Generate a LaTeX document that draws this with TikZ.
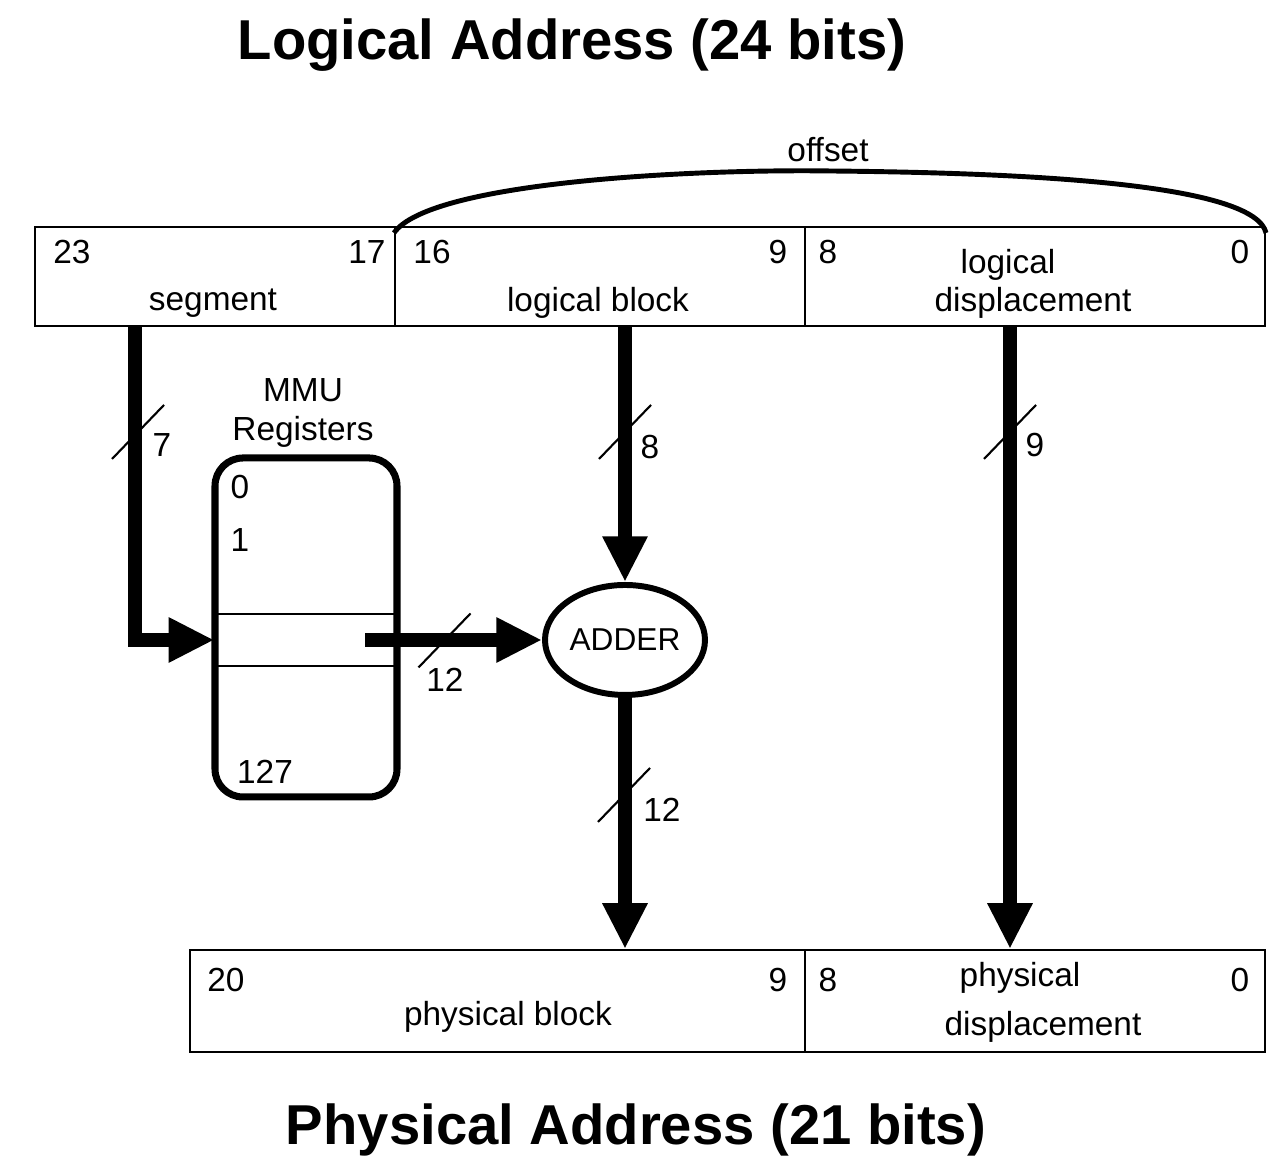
\documentclass[tikz,border=0pt]{standalone}
\usepackage{fontspec}
\setmainfont{Liberation Sans}
\usetikzlibrary{arrows.meta,shapes.geometric,positioning}

\begin{document}
\begin{tikzpicture}[>={Triangle[length=13pt,width=12pt]},
  field/.style={draw,semithick,inner sep=0pt},
  bus/.style={line width=4.2pt},
  slash/.style={semithick},
  lbl/.style={font=\fontsize{9.5}{11}\selectfont,inner sep=1pt},
  title/.style={font=\fontsize{16}{19}\selectfont\bfseries}]
\useasboundingbox (0,0) rectangle (12.84,11.61);

% titles
\node[title] (ltitle) at (5.72,11.16) {Logical Address (24 bits)};
\node[title] (ptitle) at (6.36,0.31) {Physical Address (21 bits)};

% logical address
\node[field,minimum width=3.6cm,minimum height=0.99cm] (seg) at (2.15,8.845) {};
\node[field,minimum width=4.1cm,minimum height=0.99cm] (lblk) at (6.0,8.845) {};
\node[field,minimum width=4.6cm,minimum height=0.99cm] (ldisp) at (10.35,8.845) {};
\node[lbl] (n23) at (0.72,9.09) {23};
\node[lbl] (n17) at (3.67,9.09) {17};
\node[lbl] (n16) at (4.32,9.09) {16};
\node[lbl] (n9a) at (7.78,9.09) {9};
\node[lbl] (n8a) at (8.28,9.09) {8};
\node[lbl] (n0a) at (12.40,9.09) {0};
\node[lbl] (segtxt) at (2.13,8.58) {segment};
\node[lbl] (lblktxt) at (5.98,8.58) {logical block};
\node[lbl] (ldisp1) at (10.08,8.96) {logical};
\node[lbl] (ldisp2) at (10.33,8.58) {displacement};

% offset
\draw[line width=1.4pt] ([yshift=-2pt]lblk.north west) .. controls (4.3,9.8) and (7,9.92) .. (8.3,9.9)
  .. controls (10.5,9.88) and (12.55,9.75) .. ([yshift=-2pt]ldisp.north east);
\node[lbl] (offtxt) at (8.28,10.11) {offset};

% physical address
\node[field,minimum width=6.15cm,minimum height=1.02cm] (pblk) at (4.975,1.60) {};
\node[field,minimum width=4.6cm,minimum height=1.02cm] (pdisp) at (10.35,1.60) {};
\node[lbl] (n20) at (2.26,1.81) {20};
\node[lbl] (n9b) at (7.78,1.81) {9};
\node[lbl] (n8b) at (8.28,1.81) {8};
\node[lbl] (n0b) at (12.40,1.81) {0};
\node[lbl] (pblktxt) at (5.08,1.44) {physical block};
\node[lbl] (pdisp1) at (10.20,1.83) {physical};
\node[lbl] (pdisp2) at (10.43,1.34) {displacement};

% MMU registers
\node[lbl,align=center] (mmutxt) at (3.03,7.48) {MMU\\Registers};
\node[draw,line width=2pt,rounded corners=0.28cm,minimum width=1.82cm,minimum height=3.39cm] (mmu) at (3.06,5.335) {};
\node[minimum width=1.82cm,minimum height=0.5cm] (row) at (3.06,5.21) {};
\draw[semithick] (row.north west) -- (row.north east) (row.south west) -- (row.south east);
\node[lbl] (r0) at (2.40,6.74) {0};
\node[lbl] (r1) at (2.40,6.21) {1};
\node[lbl] (r127) at (2.65,3.89) {127};

% adder
\node[ellipse,draw,line width=1.7pt,minimum width=1.6cm,minimum height=1.1cm,inner sep=0pt,font=\fontsize{9}{11}\selectfont] (adder) at (6.25,5.21) {ADDER};

% buses
\coordinate (segbus) at (1.35,8.35);
\coordinate (mmuout) at (3.65,5.21);
\coordinate (dispbus) at (10.1,8.35);
\draw[bus,->] (segbus) |- (row.west);
\draw[bus,->] (mmuout) -- (adder.west);
\draw[bus,->] (adder.north |- lblk.south) -- (adder.north);
\draw[bus,->] (adder.south) -- (adder.south |- pblk.north);
\draw[bus,->] (dispbus) -- (dispbus |- pdisp.north);

% bus widths
\draw[slash] (1.38,7.29) +(-0.26,-0.27) -- +(0.26,0.27);
\node[lbl] (w7) at (1.62,7.16) {7};
\draw[slash] (4.445,5.205) +(-0.26,-0.27) -- +(0.26,0.27);
\node[lbl] (w12a) at (4.45,4.81) {12};
\draw[slash] (6.25,7.29) +(-0.26,-0.27) -- +(0.26,0.27);
\node[lbl] (w8) at (6.50,7.14) {8};
\draw[slash] (6.24,3.66) +(-0.26,-0.27) -- +(0.26,0.27);
\node[lbl] (w12b) at (6.62,3.51) {12};
\draw[slash] (10.1,7.29) +(-0.26,-0.27) -- +(0.26,0.27);
\node[lbl] (w9) at (10.35,7.16) {9};
\end{tikzpicture}
\end{document}
